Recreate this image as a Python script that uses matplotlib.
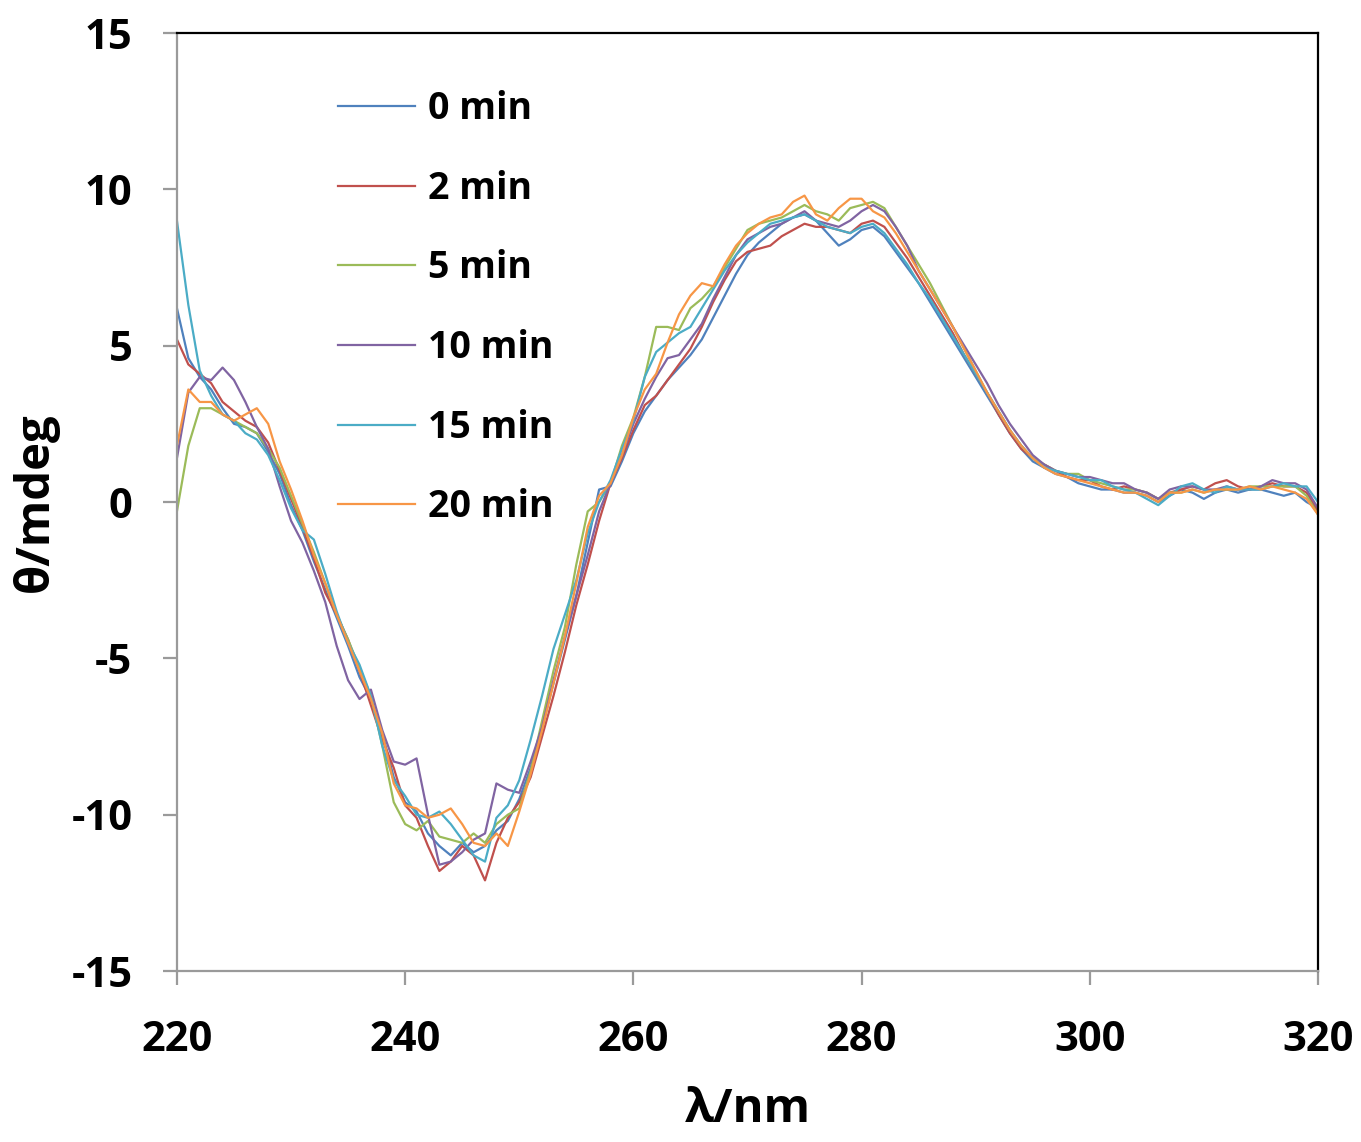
import numpy as np
import matplotlib
matplotlib.use("Agg")
import matplotlib.pyplot as plt

# longitud de onda (nm), un punto por nm
wl = list(range(220, 321))

t0 = [6.2, 4.6, 4.0, 3.6, 3.0, 2.5, 2.4, 2.2, 1.6, 0.9,
      -0.1, -0.9, -1.9, -2.8, -3.7, -4.6, -5.6, -6.3, -7.4, -8.8,
      -9.6, -9.9, -10.6, -11.0, -11.3, -10.9, -11.2, -11.0, -10.5, -10.2,
      -9.5, -8.5, -7.2, -5.8, -4.4, -3.0, -1.3, 0.4, 0.5, 1.3,
      2.2, 2.9, 3.4, 3.9, 4.3, 4.7, 5.2, 5.9, 6.6, 7.3,
      7.9, 8.3, 8.6, 8.9, 9.1, 9.2, 9.0, 8.6, 8.2, 8.4,
      8.7, 8.8, 8.5, 8.0, 7.5, 7.0, 6.4, 5.8, 5.2, 4.6,
      4.0, 3.4, 2.8, 2.2, 1.7, 1.3, 1.1, 0.9, 0.8, 0.6,
      0.5, 0.4, 0.4, 0.3, 0.3, 0.2, 0.0, 0.2, 0.4, 0.3,
      0.1, 0.3, 0.4, 0.3, 0.4, 0.4, 0.3, 0.2, 0.3, 0.0,
      -0.2]
t2 = [5.2, 4.4, 4.1, 3.8, 3.2, 2.9, 2.6, 2.4, 1.9, 1.0,
      0.1, -0.8, -1.8, -2.9, -3.6, -4.4, -5.4, -6.5, -7.6, -8.5,
      -9.7, -10.1, -11.0, -11.8, -11.5, -11.0, -11.3, -12.1, -10.9, -10.1,
      -9.6, -8.8, -7.5, -6.2, -4.8, -3.3, -2.0, -0.6, 0.6, 1.4,
      2.3, 3.1, 3.4, 3.9, 4.4, 4.9, 5.6, 6.4, 7.1, 7.7,
      8.0, 8.1, 8.2, 8.5, 8.7, 8.9, 8.8, 8.8, 8.7, 8.6,
      8.9, 9.0, 8.8, 8.3, 7.8, 7.2, 6.6, 6.0, 5.4, 4.7,
      4.1, 3.5, 2.8, 2.2, 1.7, 1.4, 1.2, 1.0, 0.8, 0.7,
      0.7, 0.5, 0.4, 0.5, 0.4, 0.3, 0.1, 0.3, 0.4, 0.5,
      0.4, 0.6, 0.7, 0.5, 0.4, 0.5, 0.6, 0.5, 0.5, 0.3,
      -0.3]
t5 = [-0.3, 1.8, 3.0, 3.0, 2.8, 2.6, 2.4, 2.2, 1.7, 1.1,
      0.2, -0.7, -1.6, -2.6, -3.6, -4.4, -5.3, -6.2, -7.8, -9.6,
      -10.3, -10.5, -10.2, -10.7, -10.8, -10.9, -10.6, -10.9, -10.3, -10.0,
      -9.8, -8.6, -7.0, -5.4, -4.0, -2.0, -0.3, 0.0, 0.6, 1.8,
      2.7, 4.0, 5.6, 5.6, 5.5, 6.2, 6.5, 6.9, 7.5, 8.1,
      8.7, 8.9, 9.0, 9.1, 9.3, 9.5, 9.3, 9.2, 9.0, 9.4,
      9.5, 9.6, 9.4, 8.8, 8.2, 7.6, 7.0, 6.3, 5.6, 4.9,
      4.2, 3.5, 2.9, 2.3, 1.8, 1.4, 1.2, 1.0, 0.9, 0.9,
      0.7, 0.6, 0.5, 0.4, 0.4, 0.3, 0.1, 0.3, 0.3, 0.4,
      0.3, 0.4, 0.4, 0.4, 0.5, 0.5, 0.5, 0.5, 0.5, 0.2,
      -0.4]
t10 = [1.4, 3.5, 4.0, 3.9, 4.3, 3.9, 3.2, 2.4, 1.7, 0.5,
       -0.6, -1.3, -2.2, -3.2, -4.6, -5.7, -6.3, -6.0, -7.3, -8.3,
       -8.4, -8.2, -10.0, -11.6, -11.5, -11.2, -10.8, -10.6, -9.0, -9.2,
       -9.3, -8.3, -7.2, -5.7, -4.3, -3.0, -1.7, -0.3, 0.6, 1.5,
       2.5, 3.3, 4.0, 4.6, 4.7, 5.2, 5.7, 6.5, 7.2, 7.9,
       8.4, 8.6, 8.8, 8.9, 9.1, 9.3, 9.0, 8.9, 8.8, 9.0,
       9.3, 9.5, 9.3, 8.8, 8.2, 7.4, 6.8, 6.2, 5.6, 5.0,
       4.4, 3.8, 3.1, 2.5, 2.0, 1.5, 1.2, 1.0, 0.9, 0.8,
       0.8, 0.7, 0.6, 0.6, 0.4, 0.3, 0.1, 0.4, 0.5, 0.5,
       0.4, 0.4, 0.5, 0.4, 0.4, 0.5, 0.7, 0.6, 0.6, 0.4,
       -0.2]
t15 = [9.0, 6.3, 4.2, 3.4, 2.8, 2.6, 2.2, 2.0, 1.5, 0.7,
       -0.2, -0.9, -1.2, -2.3, -3.5, -4.5, -5.2, -6.2, -7.8, -8.9,
       -9.4, -10.0, -10.1, -9.9, -10.3, -10.8, -11.3, -11.5, -10.1, -9.7,
       -8.9, -7.6, -6.2, -4.7, -3.6, -2.5, -1.0, 0.0, 0.7, 1.7,
       2.6, 4.0, 4.8, 5.1, 5.4, 5.6, 6.2, 6.8, 7.4, 7.9,
       8.3, 8.6, 8.9, 9.0, 9.1, 9.2, 9.0, 8.8, 8.7, 8.6,
       8.8, 8.9, 8.6, 8.1, 7.6, 7.0, 6.5, 5.9, 5.3, 4.7,
       4.1, 3.5, 2.9, 2.3, 1.8, 1.4, 1.1, 1.0, 0.9, 0.8,
       0.7, 0.7, 0.5, 0.4, 0.3, 0.1, -0.1, 0.2, 0.5, 0.6,
       0.4, 0.3, 0.5, 0.4, 0.4, 0.4, 0.5, 0.6, 0.5, 0.5,
       0.0]
t20 = [1.8, 3.6, 3.2, 3.2, 2.8, 2.6, 2.8, 3.0, 2.5, 1.3,
       0.4, -0.6, -1.7, -2.6, -3.6, -4.5, -5.4, -6.3, -7.4, -9.0,
       -9.7, -9.8, -10.1, -10.0, -9.8, -10.3, -10.9, -11.0, -10.6, -11.0,
       -9.9, -8.7, -7.3, -5.8, -4.3, -2.6, -0.8, 0.2, 0.6, 1.5,
       2.7, 3.6, 4.1, 5.1, 6.0, 6.6, 7.0, 6.9, 7.6, 8.2,
       8.6, 8.9, 9.1, 9.2, 9.6, 9.8, 9.2, 9.0, 9.4, 9.7,
       9.7, 9.3, 9.1, 8.6, 8.0, 7.4, 6.8, 6.2, 5.6, 4.9,
       4.2, 3.5, 2.9, 2.3, 1.8, 1.4, 1.1, 0.9, 0.8, 0.7,
       0.6, 0.5, 0.4, 0.3, 0.3, 0.2, 0.0, 0.3, 0.3, 0.4,
       0.3, 0.4, 0.4, 0.4, 0.5, 0.4, 0.5, 0.4, 0.3, 0.1,
       -0.4]

series = [t0, t2, t5, t10, t15, t20]
labels = ["0 min", "2 min", "5 min", "10 min", "15 min", "20 min"]
colores = ["#4F81BD", "#C0504D", "#9BBB59", "#8064A2", "#4BACC6", "#F79646"]

plt.rcParams['font.family'] = ['Open Sans', 'DejaVu Sans']
plt.rcParams['font.weight'] = 'bold'
plt.rcParams['axes.unicode_minus'] = False

fig = plt.figure(figsize=(13.61, 11.42), dpi=100)
ax = fig.add_axes([0.130, 0.1497, 0.8384, 0.8214])

for y, lab, c in zip(series, labels, colores):
    ax.plot(wl, y, color=c, lw=1.6, label=lab)

ax.set_xlim(220, 320)
ax.set_ylim(-15, 15)
ax.set_xticks(range(220, 321, 20))
ax.set_yticks(range(-15, 16, 5))

gris = "#9a9a9a"
for s in ["left", "bottom"]:
    ax.spines[s].set_color(gris)
    ax.spines[s].set_linewidth(1.6)
for s in ["top", "right"]:
    ax.spines[s].set_color("black")
    ax.spines[s].set_linewidth(1.6)

ax.tick_params(axis="both", direction="out", length=10, width=1.6, color=gris,
               labelsize=30)
ax.tick_params(axis="x", pad=25)
ax.tick_params(axis="y", pad=22)
for t in ax.get_xticklabels() + ax.get_yticklabels():
    t.set_fontweight("bold")

ax.set_xlabel("λ/nm", fontsize=34, fontweight="bold", labelpad=18)
ax.set_ylabel("θ/mdeg", fontsize=34, fontweight="bold", labelpad=9)

leg = ax.legend(loc="upper left", bbox_to_anchor=(0.1411, 0.939), frameon=False,
                handlelength=2.05, handletextpad=0.35, labelspacing=1.11,
                borderpad=0, borderaxespad=0,
                prop={"weight": "bold", "size": 27})

fig.savefig("out.png", dpi=100)
